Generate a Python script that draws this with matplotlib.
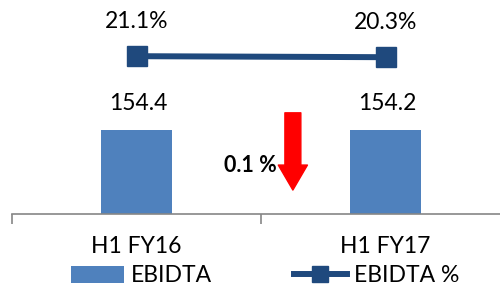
import matplotlib
matplotlib.use("Agg")
from matplotlib import pyplot as plt
from matplotlib.lines import Line2D
from matplotlib.patches import Patch

# chart values
categories = ["H1 FY16", "H1 FY17"]
ebidta = [154.4, 154.2]
ebidta_pct = [21.1, 20.3]
change_label = "0.1 %"

BAR_COLOR = "#4F81BD"
LINE_COLOR = "#1F497D"
FONT = "Lato"
FS = 16.5

plt.rcParams["font.family"] = [FONT, "DejaVu Sans"]

fig = plt.figure(figsize=(5.0, 2.88), dpi=100)
ax = fig.add_axes([12 / 500, 74 / 288, 498 / 500, 214 / 288])
ax2 = ax.twinx()

x = list(range(len(categories)))

# bars
ax.bar(x, ebidta, width=0.285, color=BAR_COLOR, zorder=2)
ax.set_xlim(-0.5, 1.5)
ax.set_ylim(0, 393.4)
for xi, v in zip(x, ebidta):
    ax.annotate(f"{v:.1f}", (xi, v), xytext=(1, 19), textcoords="offset points",
                ha="center", va="center", fontsize=FS)

# line on secondary axis
ax2.plot(x, ebidta_pct, color=LINE_COLOR, linewidth=4.3, marker="s",
         markersize=14.5, zorder=3)
ax2.set_ylim(-105, 66)
for xi, v in zip(x, ebidta_pct):
    ax2.annotate(f"{v:.1f}%", (xi, v), xytext=(0, 25), textcoords="offset points",
                 ha="center", va="center", fontsize=FS)

# red down arrow
ax.annotate("", xy=(0.628, 44), xytext=(0.628, 186),
            arrowprops=dict(arrowstyle="simple,head_width=2.1,head_length=1.8,tail_width=1.15",
                            mutation_scale=10, color="red", shrinkA=0, shrinkB=0))
ax.text(0.564, 90, change_label, ha="right", va="center", fontsize=FS - 1,
        fontweight="bold")

# axes styling
for a in (ax, ax2):
    for side in ("top", "right", "left"):
        a.spines[side].set_visible(False)
    a.set_yticks([])
ax2.spines["bottom"].set_visible(False)
ax.spines["bottom"].set_color("#868686")
ax.spines["bottom"].set_linewidth(1.2)
ax.set_xticks(x)
ax.set_xticklabels(categories, fontsize=FS)
ax.set_xticks([-0.5, 0.5, 1.5], minor=True)
ax.tick_params(axis="x", which="major", length=0, pad=16)
ax.tick_params(axis="x", which="minor", length=7, color="#868686", width=1.2)

# legend
handles = [
    Patch(facecolor=BAR_COLOR, edgecolor="none", label="EBIDTA"),
    Line2D([], [], color=LINE_COLOR, linewidth=4.3, marker="s", markersize=12,
           label="EBIDTA %"),
]
fig.legend(handles=handles, loc="center", bbox_to_anchor=(0.53, 1 - 276 / 288),
           ncol=2, frameon=False, fontsize=FS, handlelength=2.3,
           handletextpad=0.3, columnspacing=3.6, borderpad=0)

fig.savefig("out.png", dpi=100)
